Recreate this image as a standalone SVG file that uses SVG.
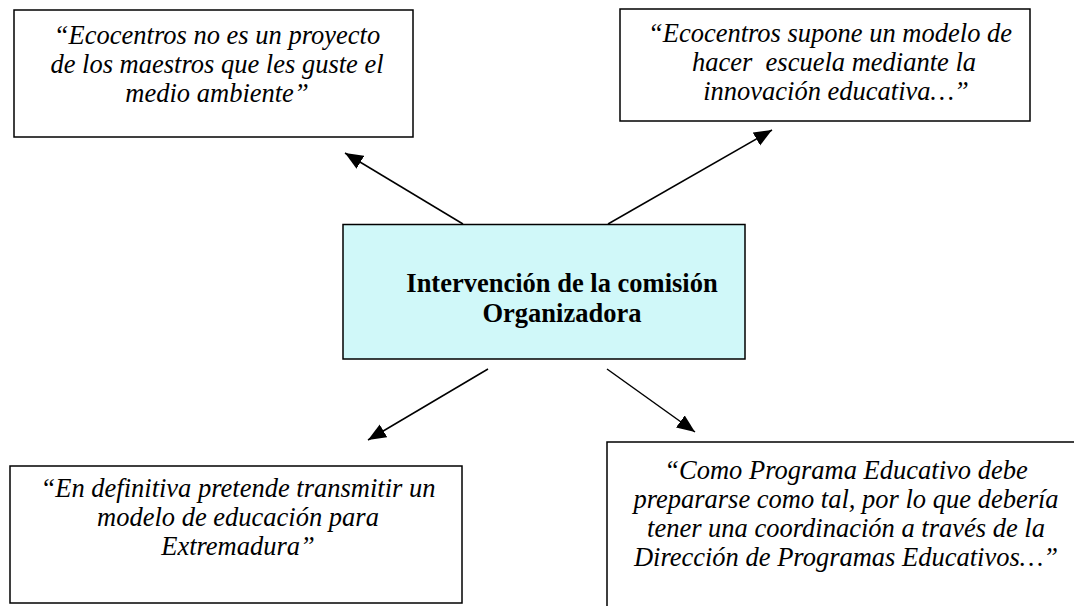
<svg xmlns="http://www.w3.org/2000/svg" width="1074" height="606" viewBox="0 0 1074 606">
<style>
.box{fill:#fff;stroke:#000;stroke-width:1.5}
.center{fill:#d0f8f9;stroke:#000;stroke-width:1.5}
.q{font-family:"Liberation Serif","Times New Roman",serif;font-style:italic;font-size:26.5px;fill:#000;text-anchor:middle}
.b{font-family:"Liberation Serif","Times New Roman",serif;font-weight:bold;font-size:26.5px;fill:#000;text-anchor:middle}
.c{stroke:#000;stroke-width:1.5;fill:none;marker-end:url(#ah)}
</style>
<defs>
<marker id="ah" markerUnits="userSpaceOnUse" markerWidth="20" markerHeight="16" refX="18" refY="7.5" orient="auto">
<path d="M0,0 L18,7.5 L0,15 z" fill="#000"/>
</marker>
</defs>
<rect width="1074" height="606" fill="#fff"/>
<g id="connectors">
<line class="c" x1="463" y1="224" x2="345" y2="153"/>
<line class="c" x1="608" y1="224" x2="772" y2="130"/>
<line class="c" x1="488" y1="369" x2="368" y2="440"/>
<line class="c" x1="607" y1="369" x2="695" y2="432"/>
</g>
<g id="center">
<rect class="center" x="343" y="224.5" width="402" height="134.5"/>
<text class="b" x="562" y="292">Intervención de la comisión</text>
<text class="b" x="562" y="322">Organizadora</text>
</g>
<g id="topleft">
<rect class="box" x="14" y="10" width="399" height="127"/>
<text class="q" x="217" y="44">“Ecocentros no es un proyecto</text>
<text class="q" x="217" y="73">de los maestros que les guste el</text>
<text class="q" x="217" y="102">medio ambiente”</text>
</g>
<g id="topright">
<rect class="box" x="620" y="9" width="410" height="112"/>
<text class="q" x="830" y="42">“Ecocentros supone un modelo de</text>
<text class="q" x="834" y="71" xml:space="preserve">hacer  escuela mediante la</text>
<text class="q" x="836" y="100">innovación educativa…”</text>
</g>
<g id="bottomleft">
<rect class="box" x="10" y="466" width="452" height="137"/>
<text class="q" x="238" y="497">“En definitiva pretende transmitir un</text>
<text class="q" x="238" y="526">modelo de educación para</text>
<text class="q" x="238" y="555">Extremadura”</text>
</g>
<g id="bottomright">
<rect class="box" x="607" y="442" width="480" height="180"/>
<text class="q" x="846" y="479">“Como Programa Educativo debe</text>
<text class="q" x="846" y="508">prepararse como tal, por lo que debería</text>
<text class="q" x="846" y="537">tener una coordinación a través de la</text>
<text class="q" x="846" y="566">Dirección de Programas Educativos…”</text>
</g>
</svg>
